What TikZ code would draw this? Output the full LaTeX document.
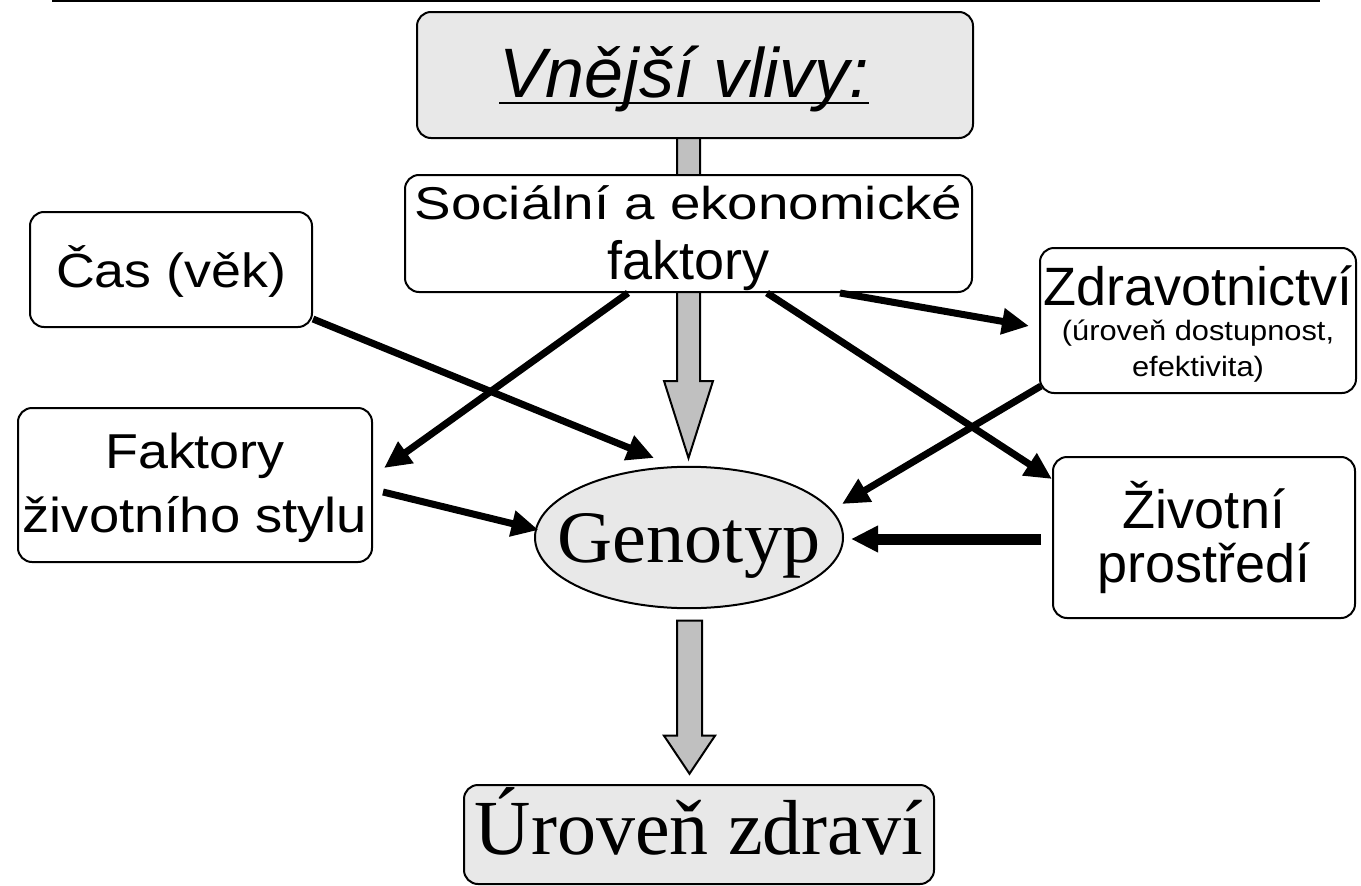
\documentclass[tikz,border=0pt]{standalone}
\usepackage{fontspec}
\usepackage{graphicx}
\usetikzlibrary{arrows.meta,calc,shapes.geometric,backgrounds}
\newfontfamily\sansf{Liberation Sans}
\newfontfamily\seriff{Liberation Serif}
\newcommand\stacklines[2]{\vtop{\baselineskip=#1\lineskiplimit=-\maxdimen\lineskip=0pt\halign{\hfil##\hfil\cr#2\crcr}}}
\newcommand\fs[1]{\fontsize{#1}{#1}\selectfont}
\newcommand\myul[1]{\setbox0\hbox{#1}\rlap{\rule[-7pt]{\wd0}{2.5pt}}\box0}
\definecolor{boxgray}{RGB}{232,232,232}
\definecolor{arrowgray}{RGB}{192,192,192}
\begin{document}
\begin{tikzpicture}[x=1pt,y=-1pt,
  box/.style={draw=black,line width=2pt,rounded corners=14pt,inner sep=0pt,fill=white},
  gbox/.style={box,fill=boxgray},
  blk/.style={draw=black,line width=2pt,fill=arrowgray,line join=miter},
  conn/.style={line width=7pt,-{Triangle[length=27pt,width=25pt]}},
  thickconn/.style={line width=11pt,-{Triangle[length=27pt,width=25pt]}}]
\useasboundingbox (0,0) rectangle (1361,886);
\draw[line width=1.5pt] (52,1) -- (1320,1);

\node[gbox,minimum width=556pt,minimum height=126pt,text height=85pt,text depth=41pt,font=\sansf\itshape\fs{70}] (vne) at (695,75) {\myul{Vnější vlivy:}\kern22pt};

\node[box,minimum width=567pt,minimum height=117pt,text height=44pt,text depth=73pt,font=\sansf\fs{46}] (soc) at (688.5,233.5)
  {\stacklines{60pt}{\scalebox{1.19}[1]{Sociální a ekonomické}\cr\fs{54}faktory}};

\node[box,minimum width=282pt,minimum height=115pt,text height=75pt,text depth=40pt,font=\sansf\fs{48}] (cas) at (171,269.5) {\scalebox{1.12}[1]{Čas (věk)}};

\node[box,minimum width=354pt,minimum height=154pt,text height=60pt,text depth=94pt,font=\sansf\fs{49}] (fak) at (195,485)
  {\stacklines{64pt}{\scalebox{1.1}[1]{Faktory}\cr \scalebox{1.11}[1]{životního stylu}}};

\node[box,minimum width=316pt,minimum height=145pt,text height=57pt,text depth=88pt,font=\sansf\fs{54}] (zdr) at (1198,320.5)
  {\stacklines{35.5pt}{Zdravotnictví\cr\fs{28}\scalebox{1.1}[1]{(úroveň dostupnost,}\cr\fs{28}\scalebox{1.1}[1]{efektivita)}}};

\node[box,minimum width=302pt,minimum height=161pt,text height=71pt,text depth=90pt,font=\sansf\fs{54}] (ziv) at (1204,537.5)
  {\stacklines{54pt}{Životní\cr prostředí}};

\node[ellipse,draw=black,line width=2pt,fill=boxgray,minimum width=308pt,minimum height=141pt,inner sep=0pt,text height=74.5pt,text depth=25.5pt,font=\seriff\fs{74}] (geno) at (689,537.5) {\makebox[0pt]{\scalebox{1.03}[1]{Genotyp}}};

\node[gbox,minimum width=470pt,minimum height=99pt,text height=69pt,text depth=30pt,font=\seriff\fs{78}] (urov) at (699,834.5) {Úroveň zdraví};

\begin{pgfonlayer}{background}
\draw[blk] ($(vne.south)+(-18,0)$) -- ++(0,242) -- ++(-13,0) -- ++(24.5,77) -- ++(24.5,-77) -- ++(-13,0) -- ++(0,-242);
\end{pgfonlayer}

\draw[blk] ($(geno.south)+(-12,11.5)$) -- ++(0,115) -- ++(-13,0) -- ++(25.5,38) -- ++(25.5,-38) -- ++(-13,0) -- ++(0,-115) -- cycle;

\draw[conn] ($(cas.south east)+(0,-9)$) -- ($(geno.center)+(-35,-79.5)$);
\draw[conn] ($(soc.south)+(-60.5,0)$) -- ($(fak.east)+(11,-17)$);
\draw[conn] ($(fak.east)+(10,7)$) -- ($(geno.center)+(-150.5,-7.5)$);
\draw[conn] ($(soc.south)+(151.5,0)$) -- ($(zdr.west)+(-10,5.5)$);
\draw[conn] ($(soc.south)+(78.5,0)$) -- ($(ziv.north west)+(0,23)$);
\draw[conn] ($(zdr.south west)+(2,-8)$) -- ($(geno.center)+(153,-33.5)$);
\draw[thickconn] ($(ziv.west)+(-11,1.5)$) -- ($(geno.east)+(7,1.5)$);
\end{tikzpicture}
\end{document}
